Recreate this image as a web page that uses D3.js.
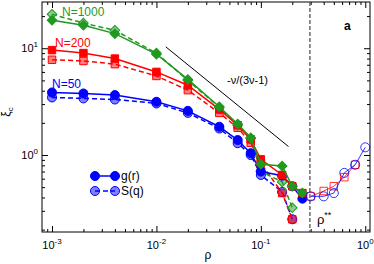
<!DOCTYPE html>
<html>
<head>
<meta charset="utf-8">
<script src="https://cdn.jsdelivr.net/npm/d3@7"></script>
<style>
  body { margin: 0; background: #fff; }
  text { font-family: "Liberation Sans", Arial, sans-serif; }
</style>
</head>
<body>
<div id="chart"></div>
<script>
// data
var rho_low = [0.001, 0.002, 0.004, 0.01, 0.02, 0.04, 0.06, 0.08, 0.1, 0.16, 0.2, 0.25];
var rho_high = [0.3, 0.4, 0.5, 0.63, 0.8, 1.0];

var blue_g = [3.85, 3.77, 3.64, 3.15, 2.59, 1.84, 1.38, 1.04, 0.70, 0.64, 0.51, 0.39];
var blue_s = [3.46, 3.39, 3.31, 3.04, 2.48, 1.77, 1.29, 1.0, 0.65, 0.45, 0.25];
var red_g = [9.6, 9.0, 8.0, 6.0, 4.5, 2.67, 1.9, 1.4, 0.91, 0.65, 0.51, 0.44];
var red_s = [7.8, 7.6, 7.1, 5.5, 4.05, 2.48, 1.8, 1.3, 0.84, 0.44, 0.25];
var green_g = [18.3, 16.4, 13.7, 8.8, 5.1, 2.83, 1.95, 1.45, 0.82, 0.79, 0.51, 0.44];
var green_s = [20.8, 17.2, 14.7, 9.0, 5.0, 2.79, 1.9, 1.43, 0.70, 0.56, 0.32];

var blue_open = [0.41, 0.41, 0.44, 0.68, 0.81, 1.18];
var red_open = [0.41, 0.46, 0.51, 0.62, 0.81];

var slope_line = [[0.0123, 10.3], [0.184, 1.2]];
var rho_star = 0.295;

var x_ticks = [0.001, 0.01, 0.1, 1];
var x_tick_exp = ["-3", "-2", "-1", "0"];
var y_ticks = [1, 10];
var y_tick_exp = ["0", "1"];

// set up layout
var margin = { top: 2, right: 4, bottom: 32, left: 42 },
    width = 374 - margin.left - margin.right,
    height = 264 - margin.top - margin.bottom;

var blue = "#0000ff", red = "#ff0000", green = "#1f9a1f";

var x = d3.scaleLog().domain([0.000802, 1.11]).range([0, width]);
var y = d3.scaleLog().domain([0.19, 27.1]).range([height, 0]);

var svg = d3.select("#chart").append("svg")
    .attr("width", 374)
    .attr("height", 264)
    .append("g")
    .attr("transform", "translate(" + margin.left + "," + margin.top + ")");

function pairs(xs, ys) {
    return ys.map(function (v, i) { return [xs[i], v]; });
}

var line = d3.line()
    .x(function (d) { return x(d[0]); })
    .y(function (d) { return y(d[1]); });

// minor tick values
var x_minor = [], y_minor = [];
[0.0001, 0.001, 0.01, 0.1, 1].forEach(function (b) {
    for (var k = 2; k <= 9; k++) x_minor.push(b * k);
});
[0.1, 1, 10].forEach(function (b) {
    for (var k = 2; k <= 9; k++) y_minor.push(b * k);
});
x_minor = x_minor.filter(function (v) { return v > x.domain()[0] && v < x.domain()[1]; });
y_minor = y_minor.filter(function (v) { return v > y.domain()[0] && v < y.domain()[1]; });

// axes with inward ticks on all sides
function addAxis(axis, ticks, size, transform) {
    svg.append("g")
        .attr("transform", transform)
        .call(axis.tickValues(ticks).tickSize(size).tickFormat(""))
        .call(function (g) {
            g.select(".domain").remove();
            g.selectAll("line").attr("stroke", "#000");
        });
}
addAxis(d3.axisTop(x), x_ticks, 6, "translate(0," + height + ")");
addAxis(d3.axisTop(x), x_minor, 3, "translate(0," + height + ")");
addAxis(d3.axisBottom(x), x_ticks, 6, "translate(0,0)");
addAxis(d3.axisBottom(x), x_minor, 3, "translate(0,0)");
addAxis(d3.axisRight(y), y_ticks, 6, "translate(0,0)");
addAxis(d3.axisRight(y), y_minor, 3, "translate(0,0)");
addAxis(d3.axisLeft(y), y_ticks, 6, "translate(" + width + ",0)");
addAxis(d3.axisLeft(y), y_minor, 3, "translate(" + width + ",0)");

svg.append("rect")
    .attr("width", width)
    .attr("height", height)
    .attr("fill", "none")
    .attr("stroke", "#000")
    .attr("stroke-width", 1);

// tick labels
var xl = svg.selectAll(".xlab").data(x_ticks).enter().append("text")
    .attr("x", function (d) { return x(d); })
    .attr("y", height + 17)
    .attr("text-anchor", "middle")
    .attr("font-size", 11);
xl.append("tspan").text("10");
xl.append("tspan").attr("dy", -5).attr("font-size", 8).text(function (d, i) { return x_tick_exp[i]; });

var yl = svg.selectAll(".ylab").data(y_ticks).enter().append("text")
    .attr("x", -4)
    .attr("y", function (d) { return y(d) + 4; })
    .attr("text-anchor", "end")
    .attr("font-size", 11);
yl.append("tspan").text("10");
yl.append("tspan").attr("dy", -5).attr("font-size", 8).text(function (d, i) { return y_tick_exp[i]; });

// axis titles
svg.append("text")
    .attr("x", 166).attr("y", 259 - margin.top)
    .attr("text-anchor", "middle").attr("font-size", 12)
    .text("ρ");
var yt = svg.append("text")
    .attr("transform", "translate(" + (-32) + "," + 110 + ") rotate(-90)")
    .attr("text-anchor", "middle").attr("font-size", 12);
yt.append("tspan").text("ξ");
yt.append("tspan").attr("dy", 3).attr("font-size", 8).text("c");

// rho** dashed line
svg.append("line")
    .attr("x1", x(rho_star)).attr("x2", x(rho_star))
    .attr("y1", 0).attr("y2", height)
    .attr("stroke", "#555").attr("stroke-width", 1.3)
    .attr("stroke-dasharray", "4,2");
var rs = svg.append("text")
    .attr("x", x(rho_star) + 7).attr("y", 222)
    .attr("font-size", 13);
rs.append("tspan").text("ρ");
rs.append("tspan").attr("dy", -6).attr("font-size", 9).text("**");

// power law guide
svg.append("path")
    .attr("d", line(slope_line))
    .attr("fill", "none").attr("stroke", "#000").attr("stroke-width", 1);
svg.append("text")
    .attr("x", 185).attr("y", 82)
    .attr("font-size", 11)
    .text("-ν/(3ν-1)");

svg.append("text")
    .attr("x", 302).attr("y", 28)
    .attr("font-size", 12).attr("font-weight", "bold")
    .text("a");

// series
var series = [
    { c: blue, xs: rho_low, ys: blue_s, dash: true, shape: "circle" },
    { c: red, xs: rho_low, ys: red_s, dash: true, shape: "square" },
    { c: green, xs: rho_low, ys: green_s, dash: true, shape: "diamond" },
    { c: blue, xs: rho_low, ys: blue_g, dash: false, shape: "circle" },
    { c: red, xs: rho_low, ys: red_g, dash: false, shape: "square" },
    { c: green, xs: rho_low, ys: green_g, dash: false, shape: "diamond" }
];

var sym = {
    circle: d3.symbol().type(d3.symbolCircle).size(64),
    square: d3.symbol().type(d3.symbolSquare).size(56),
    diamond: d3.symbol().type(d3.symbolSquare).size(46)
};
var rot = { circle: "", square: "", diamond: " rotate(45)" };

series.forEach(function (s) {
    var pts = pairs(s.xs, s.ys);
    svg.append("path")
        .attr("d", line(pts))
        .attr("fill", "none")
        .attr("stroke", s.c)
        .attr("stroke-width", 1.5)
        .attr("stroke-dasharray", s.dash ? "5,3" : null);
    svg.selectAll(null).data(pts).enter().append("path")
        .attr("transform", function (d) { return "translate(" + x(d[0]) + "," + y(d[1]) + ")" + rot[s.shape]; })
        .attr("d", sym[s.shape])
        .attr("fill", s.c)
        .attr("fill-opacity", s.dash ? 0.5 : 1)
        .attr("stroke", s.c)
        .attr("stroke-width", 1);
});

// open symbols above rho**
[{ c: red, ys: red_open, shape: "square" }, { c: blue, ys: blue_open, shape: "circle" }].forEach(function (s) {
    var pts = pairs(rho_high, s.ys);
    svg.append("path")
        .attr("d", line(pts))
        .attr("fill", "none").attr("stroke", s.c).attr("stroke-width", 0.8);
    svg.selectAll(null).data(pts).enter().append("path")
        .attr("transform", function (d) { return "translate(" + x(d[0]) + "," + y(d[1]) + ")"; })
        .attr("d", sym[s.shape])
        .attr("fill", "none")
        .attr("stroke", s.c).attr("stroke-width", 0.8);
});

// series labels
svg.append("text").attr("x", 20).attr("y", 14).attr("font-size", 12).attr("fill", green).text("N=1000");
svg.append("text").attr("x", 13).attr("y", 45).attr("font-size", 12).attr("fill", red).text("N=200");
svg.append("text").attr("x", 10).attr("y", 86).attr("font-size", 12).attr("fill", blue).text("N=50");

// legend
var legend = svg.selectAll(".legend")
    .data([{ t: "g(r)", dash: false }, { t: "S(q)", dash: true }])
    .enter().append("g")
    .attr("transform", function (d, i) { return "translate(53," + (174 + i * 15) + ")"; });
legend.append("line")
    .attr("x1", 0).attr("x2", 20)
    .attr("stroke", blue).attr("stroke-width", 1.5)
    .attr("stroke-dasharray", function (d) { return d.dash ? "5,3" : null; });
legend.selectAll(null).data(function (d) { return [[0, d], [20, d]]; }).enter().append("path")
    .attr("transform", function (d) { return "translate(" + d[0] + ",0)"; })
    .attr("d", sym.circle)
    .attr("fill", blue)
    .attr("fill-opacity", function (d) { return d[1].dash ? 0.5 : 1; })
    .attr("stroke", blue);
legend.append("text")
    .attr("x", 26).attr("y", 4)
    .attr("font-size", 12)
    .text(function (d) { return d.t; });
</script>
</body>
</html>
